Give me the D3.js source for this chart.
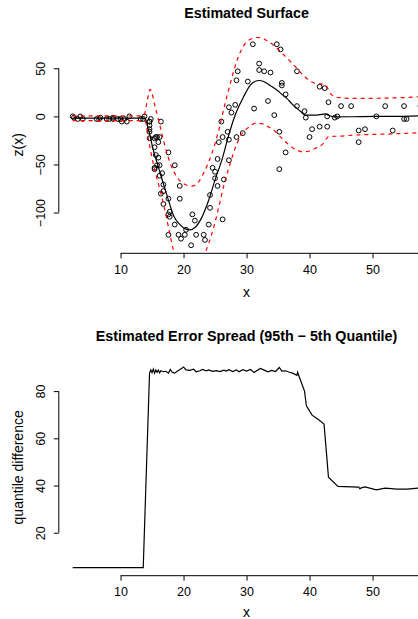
<!DOCTYPE html>
<html>
<head>
<meta charset="utf-8">
<script src="https://cdn.jsdelivr.net/npm/d3@7"></script>
<style>
  body { margin: 0; background: #fff; }
  svg { font-family: "Liberation Sans", Arial, Helvetica, sans-serif; }
  .axis text { font-size: 12.5px; fill: #000; }
  .axis line, .axis path { stroke: #000; }
</style>
</head>
<body>
<svg id="chart" width="418" height="619"></svg>
<script>
// observed points (time, acceleration)
var times = [2.4, 2.6, 3.2, 3.6, 4.0, 6.2, 6.6, 6.8, 7.8, 8.2, 8.8, 8.8, 9.6, 10.0, 10.2, 10.6, 11.0, 11.4, 13.2, 13.6,
  13.8, 14.6, 14.6, 14.6, 14.6, 14.6, 14.6, 14.8, 15.4, 15.4, 15.4, 15.4, 15.6, 15.6, 15.8, 15.8, 16.0, 16.0, 16.2, 16.2,
  16.2, 16.4, 16.4, 16.6, 16.8, 16.8, 16.8, 17.6, 17.6, 17.6, 17.6, 17.8, 17.8, 18.6, 18.6, 19.2, 19.4, 19.4, 19.6, 20.2,
  20.4, 21.2, 21.4, 21.8, 22.0, 23.2, 23.4, 24.0, 24.2, 24.2, 24.6, 25.0, 25.0, 25.4, 25.4, 25.6, 26.0, 26.2, 26.2, 26.4,
  27.0, 27.2, 27.2, 27.2, 27.6, 28.2, 28.4, 28.4, 28.6, 29.4, 30.2, 31.0, 31.2, 32.0, 32.0, 32.8, 33.4, 33.8, 34.4, 34.8,
  35.2, 35.2, 35.4, 35.6, 35.6, 36.2, 36.2, 38.0, 38.0, 39.2, 39.4, 40.0, 40.4, 41.6, 41.6, 42.4, 42.8, 42.8, 43.0, 44.0,
  44.4, 45.0, 46.6, 47.8, 47.8, 48.8, 50.6, 52.0, 53.2, 55.0, 55.0, 55.4, 57.6];
var accel = [0.0, -1.3, -2.7, 0.0, -2.7, -2.7, -2.7, -1.3, -2.7, -2.7, -1.3, -2.7, -2.7, -2.7, -5.4, -2.7, -5.4, 0.0, -2.7, -2.7,
  0.0, -13.3, -5.4, -5.4, -9.3, -16.0, -22.8, -2.7, -22.8, -32.1, -53.5, -54.9, -40.2, -21.5, -21.5, -50.8, -42.9, -26.8, -21.5, -50.8,
  -61.7, -5.4, -80.4, -59.0, -71.0, -91.1, -77.7, -37.5, -85.6, -123.1, -101.9, -99.1, -104.4, -112.5, -50.8, -123.1, -85.6, -72.3, -127.2, -123.1,
  -117.9, -134.0, -101.9, -108.4, -123.1, -123.1, -128.5, -112.5, -95.1, -81.8, -53.5, -64.4, -57.6, -72.3, -44.3, -26.8, -5.4, -107.1, -21.5, -65.6,
  -16.0, -45.6, -24.2, 9.5, 4.0, 12.0, -21.5, 37.5, 46.9, -17.4, 36.2, 75.0, 8.1, 54.9, 48.2, 46.9, 16.0, 45.6, 1.3, 75.0,
  -16.0, -54.9, 69.6, 34.8, 32.1, -37.5, 22.8, 46.9, 10.7, 5.4, -1.3, -21.5, -13.3, 30.8, -10.7, 29.4, 0.0, -10.7, 14.7, -1.3,
  0.0, 10.7, 10.7, -26.8, -14.7, -13.3, 0.0, 10.7, -14.7, -2.7, 10.7, -2.7, 10.7];

// estimated surface (solid black)
var fitX = [2.4, 13.6, 13.9, 14.45, 15.2, 16.0, 16.8, 17.6, 18.4, 19.5, 20.3, 21.0, 21.9, 22.9, 24.0, 25.0, 26.1, 27.1, 28.2,
  29.5, 30.6, 31.4, 32.0, 32.6, 33.2, 34.0, 34.8, 35.6, 36.4, 37.2, 38.0, 38.7, 39.3, 40.3, 41.2, 42.0, 42.5, 43.0, 43.8,
  46.5, 50.7, 54.0, 57.6];
var fitZ = [-1.8, -1.8, -2.5, -14, -35, -52.5, -70, -87, -103, -113, -117, -118, -115, -105, -87, -66, -45, -21, 1.5,
  20, 32.6, 36.5, 37.3, 36.5, 34.4, 31, 27.4, 23, 18.7, 13, 8.3, 4.5, 1.4, 1.2, 1.4, 2.0, 2.6, 1.2, -0.5,
  -0.4, 0, 0, 0.5];

// upper quantile band (red dashed)
var upX = [2.4, 13.6, 13.8, 14.2, 14.7, 15.5, 16.3, 17.1, 17.9, 18.95, 20.0, 21.3, 22.4, 23.4, 24.5, 25.6, 26.6, 27.7, 28.7,
  29.5, 30.9, 31.7, 32.4, 33.4, 34.3, 35.9, 37.5, 39.3, 40.6, 41.5, 42.5, 43.3, 44.0, 44.9, 47.0, 52.3, 57.6];
var upZ = [0.5, 0.5, 2, 15, 28, 10, -11, -32, -49, -63, -70, -72.5, -68, -56, -38.5, -14, 13.5, 41, 62,
  73, 81, 82, 81.5, 78, 74, 64, 53.4, 41, 35, 34, 32.6, 24, 20.4, 19.4, 18.7, 19.0, 20.4];

// lower quantile band (red dashed)
var loX = [2.4, 13.6, 13.9, 14.45, 15.2, 16.0, 16.8, 17.6, 18.4, 19.2, 20.5, 21.8, 23.0, 24.0, 24.8, 25.6, 26.35, 27.4, 28.5,
  29.5, 30.1, 31.4, 32.4, 33.2, 34.3, 35.9, 37.5, 39.0, 40.0, 40.9, 42.2, 43.0, 44.9, 47.0, 52.3, 57.6];
var loZ = [-4.5, -4.5, -5, -24.7, -49, -70, -90.6, -115, -139, -155, -163, -160, -148, -132, -115, -94, -73, -49, -28,
  -16, -12.5, -7.3, -7.5, -10, -14.3, -24.7, -33.3, -36.9, -36, -33.3, -28, -21, -20.5, -19.5, -18.4, -17];

// 95th - 5th quantile difference
var spreadX = [2.4, 13.6, 14.6, 14.8, 15.0, 15.2, 15.4, 15.6, 15.8, 16.0, 16.2, 16.4, 16.8, 17.2, 17.6, 17.9, 18.2, 18.6,
  19.0, 19.5, 20.0, 20.4, 21.0, 21.6, 22.0, 22.6, 23.0, 23.6, 24.0, 24.6, 25.2, 25.8, 26.4, 26.8, 27.2, 27.8, 28.4, 28.8,
  29.4, 30.0, 30.6, 31.2, 31.6, 32.2, 32.8, 33.4, 34.0, 34.6, 35.2, 35.6, 36.2, 36.8, 37.4, 38.0, 38.1, 38.3, 39.2, 39.5,
  40.4, 41.4, 42.3, 42.8, 43.0, 44.5, 47.8, 48.0, 48.2, 48.8, 50.6, 52.0, 53.9, 55.5, 57.6];
var spreadY = [5.2, 5.2, 87.5, 89.0, 87.8, 89.3, 87.6, 89.0, 88.0, 88.9, 87.7, 88.6, 88.2, 88.4, 87.6, 89.2, 88.0, 87.6,
  88.4, 89.3, 90.2, 89.0, 88.8, 89.3, 88.2, 88.6, 89.2, 88.6, 89.0, 88.4, 88.7, 88.3, 88.9, 88.5, 89.1, 88.3, 89.0, 88.2,
  89.1, 88.5, 89.2, 87.9, 88.6, 89.6, 88.9, 88.2, 88.8, 88.3, 90.0, 88.5, 88.6, 88.0, 87.5, 86.7, 88.0, 86.5, 80.0, 73.8,
  69.8, 68.0, 66.0, 50.0, 43.5, 39.6, 39.3, 38.6, 39.0, 39.4, 38.2, 38.9, 38.5, 38.5, 39.0];

var xTicks = [10, 20, 30, 40, 50];
var xAxisEnd = 60;
var zTicks = [50, 0, -50, -100];
var qTicks = [20, 40, 60, 80];

var svg = d3.select('#chart');

var left = 58.8, right = 434.3;

var x = d3.scaleLinear().domain([0.2, 59.8]).range([left, right]);
var y1 = d3.scaleLinear().domain([-142.36, 83.36]).range([253.3, 36.2]);
var y2 = d3.scaleLinear().domain([1.8, 93.6]).range([575.7, 359]);

function fmt(d) { return d < 0 ? '\u2212' + Math.abs(d) : String(d); }

function xAxis(top) {
	var g = svg.append('g')
		.attr('class', 'axis')
		.attr('transform', 'translate(0,' + top + ')')
		.call(d3.axisBottom(x).tickValues(xTicks).tickSize(5).tickFormat(fmt));
	g.select('.domain').remove();
	g.append('line')
		.attr('x1', x(xTicks[0])).attr('x2', x(xAxisEnd))
		.attr('stroke', '#000');
	g.selectAll('text').attr('y', 20.7).attr('dy', 0);
	return g;
}

function yAxis(scale, ticks) {
	var g = svg.append('g')
		.attr('class', 'axis')
		.attr('transform', 'translate(' + left + ',0)')
		.call(d3.axisLeft(scale).tickValues(ticks).tickSize(5).tickFormat(fmt));
	g.select('.domain').remove();
	g.append('line')
		.attr('y1', scale(d3.min(ticks))).attr('y2', scale(d3.max(ticks)))
		.attr('stroke', '#000');
	g.selectAll('text')
		.attr('x', 0).attr('dy', 0)
		.attr('text-anchor', 'middle')
		.attr('transform', 'translate(-14,0) rotate(-90)');
	return g;
}

// ---- top panel: estimated surface ----
svg.append('clipPath').attr('id', 'clip1')
	.append('rect')
	.attr('x', left).attr('y', 36.2)
	.attr('width', right - left).attr('height', 253.3 - 36.2);

var g1 = svg.append('g').attr('clip-path', 'url(#clip1)');

var pts = times.map(function(t, i) { return {x: t, z: accel[i]}; });

g1.selectAll('.pt')
	.data(pts)
	.enter().append('circle')
	.attr('class', 'pt')
	.attr('cx', function(d) { return x(d.x); })
	.attr('cy', function(d) { return y1(d.z); })
	.attr('r', 2.4)
	.attr('fill', 'none')
	.attr('stroke', '#000')
	.attr('stroke-width', 1);

function curve(xs, zs, scale) {
	return d3.line()
		.x(function(d, i) { return x(xs[i]); })
		.y(function(d, i) { return scale(zs[i]); })
		.curve(d3.curveMonotoneX)(xs);
}

g1.append('path')
	.attr('d', curve(fitX, fitZ, y1))
	.attr('fill', 'none').attr('stroke', '#000').attr('stroke-width', 1.2);

g1.append('path')
	.attr('d', curve(upX, upZ, y1))
	.attr('fill', 'none').attr('stroke', 'red').attr('stroke-width', 1.2)
	.attr('stroke-dasharray', '4,4');

g1.append('path')
	.attr('d', curve(loX, loZ, y1))
	.attr('fill', 'none').attr('stroke', 'red').attr('stroke-width', 1.2)
	.attr('stroke-dasharray', '4,4');

xAxis(253.3);
yAxis(y1, zTicks);

svg.append('text')
	.attr('x', (left + right) / 2).attr('y', 18)
	.attr('text-anchor', 'middle')
	.attr('font-weight', 'bold').attr('font-size', 14.3)
	.text('Estimated Surface');

svg.append('text')
	.attr('x', (left + right) / 2).attr('y', 296.7)
	.attr('text-anchor', 'middle').attr('font-size', 14)
	.text('x');

svg.append('text')
	.attr('transform', 'translate(23,' + (253.3 + 36.2) / 2 + ') rotate(-90)')
	.attr('text-anchor', 'middle').attr('font-size', 14)
	.text('z(x)');

// ---- bottom panel: error spread ----
svg.append('path')
	.attr('d', d3.line()
		.x(function(d, i) { return x(spreadX[i]); })
		.y(function(d, i) { return y2(spreadY[i]); })(spreadX))
	.attr('fill', 'none').attr('stroke', '#000').attr('stroke-width', 1.2);

xAxis(575.7);
yAxis(y2, qTicks);

svg.append('text')
	.attr('x', (left + right) / 2).attr('y', 341)
	.attr('text-anchor', 'middle')
	.attr('font-weight', 'bold').attr('font-size', 14.3)
	.text('Estimated Error Spread (95th \u2212 5th Quantile)');

svg.append('text')
	.attr('x', (left + right) / 2).attr('y', 616.5)
	.attr('text-anchor', 'middle').attr('font-size', 14)
	.text('x');

svg.append('text')
	.attr('transform', 'translate(22.5,' + (575.7 + 359) / 2 + ') rotate(-90)')
	.attr('text-anchor', 'middle').attr('font-size', 14)
	.text('quantile difference');
</script>
</body>
</html>
